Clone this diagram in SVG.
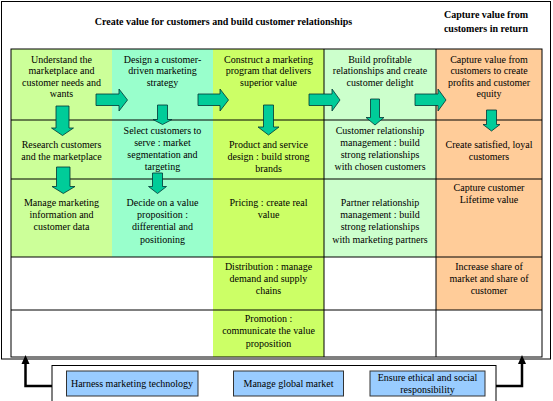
<svg xmlns="http://www.w3.org/2000/svg" width="553" height="401" viewBox="0 0 553 401">
<defs>
<style>
text{font-family:"Liberation Serif","Times New Roman",serif;font-size:10px;fill:#000;text-anchor:middle}
.title{font-weight:bold}
.grid{stroke:#000;stroke-width:1;fill:none}
.barrow{fill:#00CC99;stroke:#003333;stroke-width:0.8}
.conn{stroke:#000;stroke-width:2.5;fill:none}
.head{fill:#000}
.blue{fill:#99CCFF;stroke:#333;stroke-width:1}
</style>
</defs>
<rect x="0" y="0" width="553" height="401" fill="#fff"/>
<rect x="1.5" y="1.5" width="549" height="357.5" class="grid"/>

<g id="titles">
<text class="title" x="223.5" y="25">Create value for customers and build customer relationships</text>
<text class="title" x="486" y="18">Capture value from</text>
<text class="title" x="486" y="31.5">customers in return</text>
</g>

<g id="fills">
<rect x="11" y="49" width="101" height="208" fill="#CCFF99"/>
<rect x="112" y="49" width="101" height="208" fill="#99FFCC"/>
<rect x="213" y="49" width="111" height="308" fill="#CCFF66"/>
<rect x="324" y="49" width="112" height="208" fill="#CCFFCC"/>
<rect x="436" y="49" width="106" height="261" fill="#FFCC99"/>
</g>

<g id="grid">
<rect x="11" y="49" width="531" height="308" class="grid"/>
<line x1="11" y1="120" x2="542" y2="120" class="grid"/>
<line x1="11" y1="179" x2="542" y2="179" class="grid"/>
<line x1="11" y1="257" x2="542" y2="257" class="grid"/>
<line x1="11" y1="310" x2="542" y2="310" class="grid"/>
<line x1="324" y1="49" x2="324" y2="357" class="grid"/>
<line x1="436" y1="49" x2="436" y2="357" class="grid"/>
</g>

<g id="cell-understand">
<text x="61.5" y="62.5">Understand the</text>
<text x="61.5" y="74">marketplace and</text>
<text x="61.5" y="85.5">customer needs and</text>
<text x="61.5" y="97">wants</text>
</g>
<g id="cell-design">
<text x="162.5" y="62.5">Design a customer-</text>
<text x="162.5" y="74">driven marketing</text>
<text x="162.5" y="85.5">strategy</text>
</g>
<g id="cell-construct">
<text x="268.5" y="62.5">Construct a marketing</text>
<text x="268.5" y="74">program that delivers</text>
<text x="268.5" y="85.5">superior value</text>
</g>
<g id="cell-build">
<text x="380" y="62.5">Build profitable</text>
<text x="380" y="74">relationships and create</text>
<text x="380" y="85.5">customer delight</text>
</g>
<g id="cell-capture">
<text x="489" y="62.5">Capture value from</text>
<text x="489" y="74">customers to create</text>
<text x="489" y="85.5">profits and customer</text>
<text x="489" y="97">equity</text>
</g>

<g id="cell-research">
<text x="61.5" y="148">Research customers</text>
<text x="61.5" y="159.5">and the marketplace</text>
</g>
<g id="cell-select">
<text x="162.5" y="133.5">Select customers to</text>
<text x="162.5" y="145.5">serve : market</text>
<text x="162.5" y="157.5">segmentation and</text>
<text x="162.5" y="169.5">targeting</text>
</g>
<g id="cell-product">
<text x="268.5" y="148">Product and service</text>
<text x="268.5" y="160">design : build strong</text>
<text x="268.5" y="171.5">brands</text>
</g>
<g id="cell-crm">
<text x="380" y="133.5">Customer relationship</text>
<text x="380" y="145.5">management : build</text>
<text x="380" y="157.5">strong relationships</text>
<text x="380" y="169.5">with chosen customers</text>
</g>
<g id="cell-satisfied">
<text x="489" y="148">Create satisfied, loyal</text>
<text x="489" y="159.5">customers</text>
</g>

<g id="cell-manage-info">
<text x="61.5" y="206">Manage marketing</text>
<text x="61.5" y="218">information and</text>
<text x="61.5" y="230">customer data</text>
</g>
<g id="cell-decide">
<text x="162.5" y="206">Decide on a value</text>
<text x="162.5" y="218">proposition :</text>
<text x="162.5" y="230">differential and</text>
<text x="162.5" y="242.5">positioning</text>
</g>
<g id="cell-pricing">
<text x="268.5" y="206">Pricing : create real</text>
<text x="268.5" y="218">value</text>
</g>
<g id="cell-prm">
<text x="380" y="206">Partner relationship</text>
<text x="380" y="218">management : build</text>
<text x="380" y="230">strong relationships</text>
<text x="380" y="242.5">with marketing partners</text>
</g>
<g id="cell-lifetime">
<text x="489" y="191">Capture customer</text>
<text x="489" y="203">Lifetime value</text>
</g>

<g id="cell-distribution">
<text x="268.5" y="270">Distribution : manage</text>
<text x="268.5" y="282">demand and supply</text>
<text x="268.5" y="294">chains</text>
</g>
<g id="cell-share">
<text x="489" y="270">Increase share of</text>
<text x="489" y="282">market and share of</text>
<text x="489" y="294">customer</text>
</g>
<g id="cell-promotion">
<text x="268.5" y="322">Promotion :</text>
<text x="268.5" y="334">communicate the value</text>
<text x="268.5" y="346.5">proposition</text>
</g>

<g id="bottom-box">
<rect x="52" y="365.5" width="444" height="45" class="grid"/>
</g>
<g id="node-harness">
<rect x="66.5" y="371" width="131.5" height="25" class="blue"/>
<text x="132" y="386.5">Harness marketing technology</text>
</g>
<g id="node-global">
<rect x="233.5" y="371" width="110" height="25" class="blue"/>
<text x="288.5" y="386.5">Manage global market</text>
</g>
<g id="node-ethical">
<rect x="370" y="371" width="115" height="25" class="blue"/>
<text x="427.5" y="381">Ensure ethical and social</text>
<text x="427.5" y="393">responsibility</text>
</g>

<g id="connectors">
<polygon class="barrow" points="96,94 119,94 119,89 127.5,100 119,111 119,105.5 96,105.5"/>
<polygon class="barrow" points="198,94 220,94 220,89 228.5,100 220,111 220,105.5 198,105.5"/>
<polygon class="barrow" points="309,94 332,94 332,89 340,100 332,111 332,105.5 309,105.5"/>
<polygon class="barrow" points="415,94 438,94 438,89 446,100 438,111 438,105.5 415,105.5"/>
<polygon class="barrow" points="56,106 69,106 69,128 73.5,128 62.5,135.5 51.5,128 56,128"/>
<polygon class="barrow" points="157.5,105 167.5,105 167.5,119.5 172,119.5 162.5,124.5 153,119.5 157.5,119.5"/>
<polygon class="barrow" points="263.5,105 273.5,105 273.5,127 279,127 268.5,135 258,127 263.5,127"/>
<polygon class="barrow" points="370.5,99 379.5,99 379.5,117.5 384,117.5 375,125 366,117.5 370.5,117.5"/>
<polygon class="barrow" points="486.5,110 496.5,110 496.5,124.5 500,124.5 491.5,131 483,124.5 486.5,124.5"/>
<polygon class="barrow" points="56.5,167 70,167 70,186.5 75,186.5 63.3,193.5 52,186.5 56.5,186.5"/>
<polygon class="barrow" points="152.5,173 162.5,173 162.5,186.5 166.5,186.5 157.5,193.5 148.5,186.5 152.5,186.5"/>
<polyline class="conn" points="52,386 25.5,386 25.5,362"/>
<polygon class="head" points="25.5,355 21.5,364 29.5,364"/>
<polyline class="conn" points="496,386 522,386 522,362"/>
<polygon class="head" points="522,355 518,364 526,364"/>
</g>
</svg>
